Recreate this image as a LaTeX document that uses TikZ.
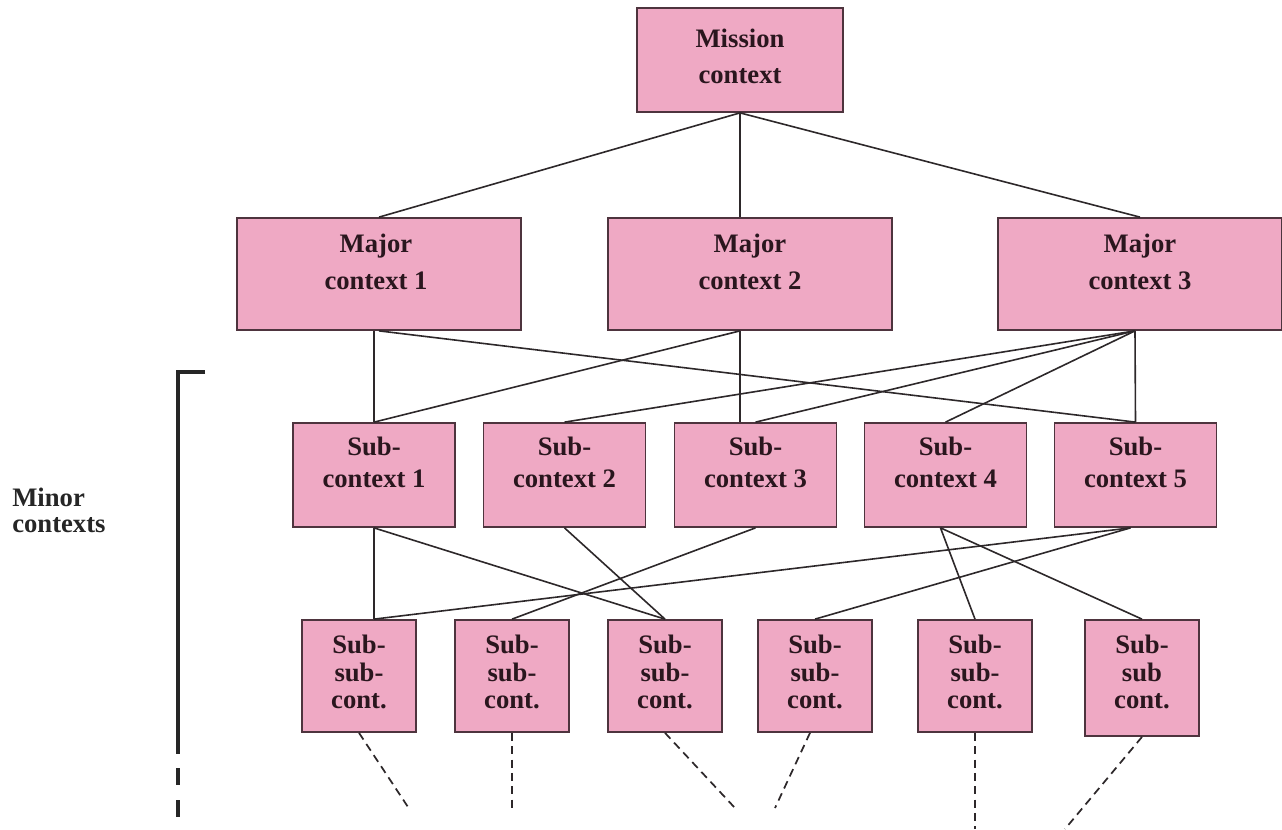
\documentclass[tikz,border=0pt]{standalone}
\usepackage{fontspec}
\setmainfont{Liberation Serif}
\usetikzlibrary{calc}
\definecolor{boxpink}{RGB}{239,169,196}
\definecolor{boxedge}{RGB}{78,52,62}
\definecolor{ink}{RGB}{42,22,30}
\definecolor{wirecol}{RGB}{45,40,42}
\begin{document}
\begin{tikzpicture}[x=0.75pt,y=-0.75pt,
  ctxbox/.style={draw=boxedge,line width=1.3pt,fill=boxpink,inner sep=0pt},
  ctxtext/.style={text=ink,font=\bfseries\fontsize{20}{#1}\selectfont,align=center,inner sep=0pt},
  wire/.style={draw=wirecol,line width=1.2pt},
  dashwire/.style={draw=wirecol,line width=1.3pt,dash pattern=on 6pt off 4pt},
  bracket/.style={draw=black!85,line width=2.3pt}]
\useasboundingbox (0,0) rectangle (1282,829);
\node[ctxbox,minimum width=154.5pt,minimum height=78pt] (mission) at (740,60) {};
\node[ctxtext=27pt] (missiontxt) at ($(mission)+(0,-4)$) {Mission\\context};
\node[ctxbox,minimum width=213pt,minimum height=84pt] (major1) at (379,274) {};
\node[ctxtext=27.5pt] (major1txt) at ($(major1)+(-3,-12)$) {Major\\context 1};
\node[ctxbox,minimum width=213pt,minimum height=84pt] (major2) at (750,274) {};
\node[ctxtext=27.5pt] (major2txt) at ($(major2)+(0,-12)$) {Major\\context 2};
\node[ctxbox,minimum width=213pt,minimum height=84pt] (major3) at (1140,274) {};
\node[ctxtext=27.5pt] (major3txt) at ($(major3)+(0,-12)$) {Major\\context 3};
\node[ctxbox,minimum width=121.5pt,minimum height=78pt] (sub1) at (374,475) {};
\node[ctxtext=24pt] (sub1txt) at ($(sub1)+(0,-13)$) {Sub-\\context 1};
\node[ctxbox,minimum width=121.5pt,minimum height=78pt] (sub2) at (564.5,475) {};
\node[ctxtext=24pt] (sub2txt) at ($(sub2)+(0,-13)$) {Sub-\\context 2};
\node[ctxbox,minimum width=121.5pt,minimum height=78pt] (sub3) at (755.5,475) {};
\node[ctxtext=24pt] (sub3txt) at ($(sub3)+(0,-13)$) {Sub-\\context 3};
\node[ctxbox,minimum width=121.5pt,minimum height=78pt] (sub4) at (945.5,475) {};
\node[ctxtext=24pt] (sub4txt) at ($(sub4)+(0,-13)$) {Sub-\\context 4};
\node[ctxbox,minimum width=121.5pt,minimum height=78pt] (sub5) at (1135.5,475) {};
\node[ctxtext=24pt] (sub5txt) at ($(sub5)+(0,-13)$) {Sub-\\context 5};
\node[ctxbox,minimum width=85.5pt,minimum height=84pt] (ss1) at (359,676) {};
\node[ctxtext=20.6pt] (ss1txt) at ($(ss1)+(0,-4)$) {Sub-\\sub-\\cont.};
\node[ctxbox,minimum width=85.5pt,minimum height=84pt] (ss2) at (512,676) {};
\node[ctxtext=20.6pt] (ss2txt) at ($(ss2)+(0,-4)$) {Sub-\\sub-\\cont.};
\node[ctxbox,minimum width=85.5pt,minimum height=84pt] (ss3) at (665,676) {};
\node[ctxtext=20.6pt] (ss3txt) at ($(ss3)+(0,-4)$) {Sub-\\sub-\\cont.};
\node[ctxbox,minimum width=85.5pt,minimum height=84pt] (ss4) at (815,676) {};
\node[ctxtext=20.6pt] (ss4txt) at ($(ss4)+(0,-4)$) {Sub-\\sub-\\cont.};
\node[ctxbox,minimum width=85.5pt,minimum height=84pt] (ss5) at (975,676) {};
\node[ctxtext=20.6pt] (ss5txt) at ($(ss5)+(0,-4)$) {Sub-\\sub-\\cont.};
\node[ctxbox,minimum width=85.5pt,minimum height=87pt] (ss6) at (1142,678) {};
\node[ctxtext=20.6pt] (ss6txt) at ($(ss6)+(0,-6)$) {Sub-\\sub\\cont.};
\node[ctxtext=19.5pt,text=black!85,align=left,anchor=west] (minor) at (12,510) {Minor\\contexts};
% mission to major contexts
\draw[wire] (mission.south) -- (major1.north);
\draw[wire] (mission.south) -- (mission.south |- major2.north);
\draw[wire] (mission.south) -- (major3.north);
% major to sub-contexts
\coordinate (m2foot) at ($(major2.south)+(-10,0)$);
\coordinate (m3foot) at ($(major3.south)+(-5,0)$);
\draw[wire] (sub1.north |- major1.south) -- (sub1.north);
\draw[wire] (major1.south) -- (sub5.north);
\draw[wire] (m2foot) -- (sub1.north);
\draw[wire] (m2foot) -- (m2foot |- sub3.north);
\draw[wire] (m3foot) -- (sub2.north);
\draw[wire] (m3foot) -- (sub3.north);
\draw[wire] (m3foot) -- (sub4.north);
\draw[wire] (m3foot) -- (sub5.north);
% sub to sub-sub contexts
\coordinate (ss1top) at (sub1.south |- ss1.north);
\coordinate (s4foot) at ($(sub4.south)+(-5,0)$);
\coordinate (s5foot) at ($(sub5.south)+(-5,0)$);
\draw[wire] (sub1.south) -- (ss1top);
\draw[wire] (sub1.south) -- (ss3.north);
\draw[wire] (sub2.south) -- (ss3.north);
\draw[wire] (sub3.south) -- (ss2.north);
\draw[wire] (s4foot) -- (ss5.north);
\draw[wire] (s4foot) -- (ss6.north);
\draw[wire] (s5foot) -- (ss1top);
\draw[wire] (s5foot) -- (ss4.north);
% open ends below
\coordinate (end1) at (410,810);
\coordinate (end2) at (512,810);
\coordinate (end3) at (735,808);
\coordinate (end4) at (775,808);
\coordinate (end5) at (975,829);
\coordinate (end6) at (1065,829);
\draw[dashwire] (ss1.south) -- (end1);
\draw[dashwire] (ss2.south) -- (end2);
\draw[dashwire] (ss3.south) -- (end3);
\draw[dashwire] ($(ss4.south)+(-5,0)$) -- (end4);
\draw[dashwire] (ss5.south) -- (end5);
\draw[dashwire] (ss6.south) -- (end6);
% bracket
\coordinate (brtip) at (205,372);
\coordinate (brcorner) at (178,372);
\coordinate (brfoot) at (178,754);
\draw[bracket] (brtip) -- (brcorner) -- (brfoot);
\draw[bracket] (178,768) -- (178,785);
\draw[bracket] (178,800) -- (178,817);
\end{tikzpicture}
\end{document}
